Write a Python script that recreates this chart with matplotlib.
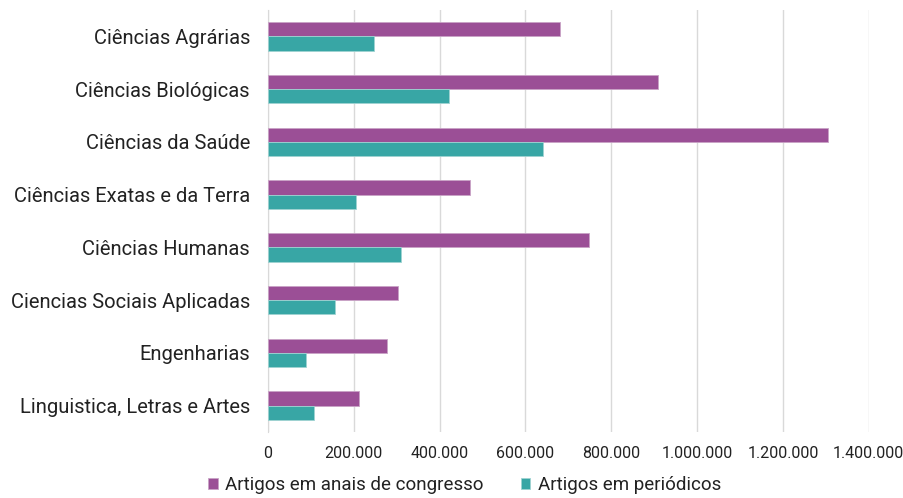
import numpy as np
import matplotlib.pyplot as plt
from matplotlib.ticker import FuncFormatter

# Dados
areas = ['Ciências Agrárias', 'Ciências Biológicas', 'Ciências da Saúde',
         'Ciências Exatas e da Terra', 'Ciências Humanas',
         'Ciencias Sociais Aplicadas', 'Engenharias',
         'Linguistica, Letras e Artes']
anais = [680000, 909000, 1306000, 470000, 748000, 303000, 278000, 212000]
periodicos = [247000, 422000, 641000, 206000, 309000, 157000, 89000, 108000]

plt.rcParams['font.family'] = ['Roboto', 'DejaVu Sans']

fig = plt.figure(figsize=(9.04, 4.98), dpi=100)
ax = fig.add_axes([0.2965, 0.1325, 0.6645, 0.8475])

y = np.arange(len(areas))
h = 0.27
ax.barh(y - h / 2, anais, height=h, color='#9B4F96', edgecolor='#c9a3c6',
        linewidth=0.6, label='Artigos em anais de congresso', zorder=3)
ax.barh(y + h / 2, periodicos, height=h, color='#38A6A5', edgecolor='#9fd3d2',
        linewidth=0.6, label='Artigos em periódicos', zorder=3)

ax.set_ylim(len(areas) - 0.5, -0.5)
ax.set_xlim(0, 1400000)
ax.set_yticks(y)
ax.set_yticklabels(areas, fontsize=14.5, color='#222222')
ax.set_xticks(np.arange(0, 1400001, 200000))
ax.xaxis.set_major_formatter(FuncFormatter(lambda v, p: f"{int(v):,}".replace(',', '.')))
ax.tick_params(axis='x', labelsize=11.5, colors='#222222', length=0, pad=10)
ax.tick_params(axis='y', length=0, pad=13)

ax.grid(axis='x', color='#d9d9d9', linewidth=1, zorder=0)
for s in ['top', 'right', 'bottom']:
    ax.spines[s].set_visible(False)
ax.spines['left'].set_color('#d9d9d9')

fig.legend(loc='center', bbox_to_anchor=(0.514, 0.026), ncol=2, frameon=False,
           fontsize=13.5, handlelength=0.5, handleheight=0.5, handletextpad=0.4,
           columnspacing=2.0, labelcolor='#222222', borderpad=0.1)

plt.savefig('out.png', dpi=100)
